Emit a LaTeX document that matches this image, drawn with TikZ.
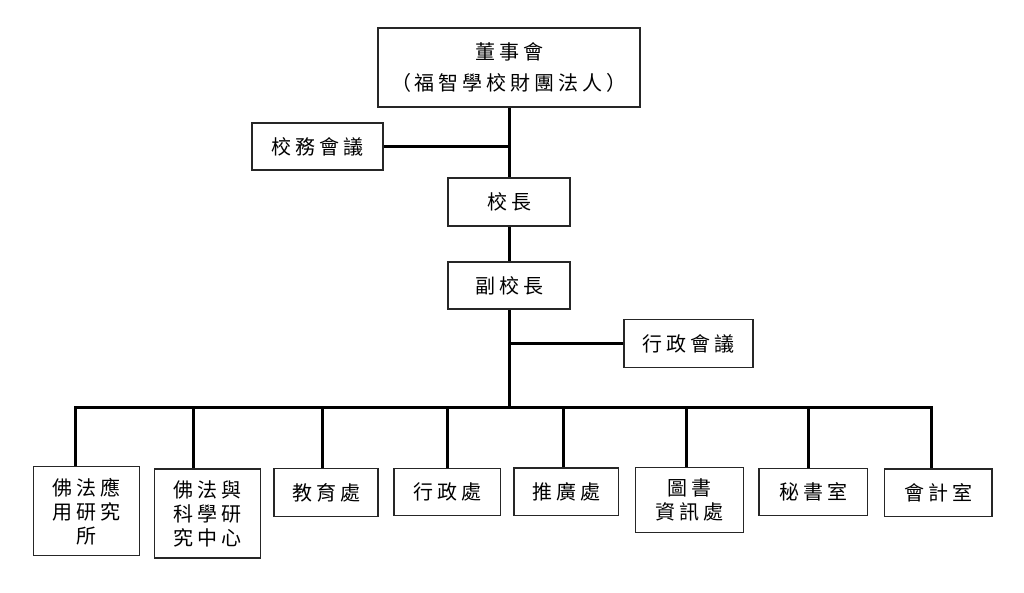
\documentclass[tikz,border=0pt]{standalone}
\usepackage{fontspec}
\setmainfont{Noto Sans CJK TC}[LetterSpace=20]
\begin{document}
\begin{tikzpicture}[x=1pt,y=-1pt,
  box/.style={draw=black!85,line width=1.3pt,rectangle,inner sep=0pt,align=center,
    font=\fontsize{20}{24}\selectfont},
  conn/.style={line width=3pt,black}]
\useasboundingbox[fill=white] (0,0) rectangle (1024,593);
% top
\node[box,minimum width=262pt,minimum height=79pt,font=\fontsize{20}{31}\selectfont] (top) at (509,67.5) {董事會\\（福智學校財團法人）};
\node[box,minimum width=131pt,minimum height=47pt] (wu) at (317.5,146.5) {校務會議};
\node[box,minimum width=122pt,minimum height=48pt] (xz) at (509,202) {校長};
\node[box,minimum width=122pt,minimum height=47pt] (fxz) at (509,285.5) {副校長};
\node[box,minimum width=129pt,minimum height=48pt] (xh) at (688.5,343.5) {行政會議};
% bottom row
\node[box,minimum width=106pt,minimum height=89pt] (b1) at (86.3,511.3) {佛法應\\用研究\\所};
\node[box,minimum width=106pt,minimum height=89pt] (b2) at (207.7,513.5) {佛法與\\科學研\\究中心};
\node[box,minimum width=104pt,minimum height=48pt] (b3) at (326,492.8) {教育處};
\node[box,minimum width=106.7pt,minimum height=47pt] (b4) at (447.3,492.2) {行政處};
\node[box,minimum width=104.7pt,minimum height=47.7pt] (b5) at (566.3,491.8) {推廣處};
\node[box,minimum width=108pt,minimum height=64.6pt] (b6) at (689.7,500) {圖書\\資訊處};
\node[box,minimum width=108.7pt,minimum height=47.4pt] (b7) at (813.3,492) {秘書室};
\node[box,minimum width=107.7pt,minimum height=47.7pt] (b8) at (938.2,492.8) {會計室};
% trunk
\coordinate (bus) at (509,407.3);
\draw[conn] (top.south) -- (xz.north);
\draw[conn] (wu.east) -- (wu.east -| top.south);
\draw[conn] (xz.south) -- (fxz.north);
\draw[conn] (fxz.south) -- (bus);
\draw[conn] (xh.west) -- (xh.west -| fxz.south);
% bus and drops
\coordinate (d1) at (75.7,407.3);
\coordinate (d2) at (193.7,407.3);
\coordinate (d3) at (322,407.3);
\coordinate (d4) at (447.7,407.3);
\coordinate (d5) at (563.7,407.3);
\coordinate (d6) at (686.3,407.3);
\coordinate (d7) at (808.3,407.3);
\coordinate (d8) at (931.7,407.3);
\draw[conn,line cap=rect] (d1) -- (d8);
\draw[conn] (d1) -- (d1 |- b1.north);
\draw[conn] (d2) -- (d2 |- b2.north);
\draw[conn] (d3) -- (d3 |- b3.north);
\draw[conn] (d4) -- (d4 |- b4.north);
\draw[conn] (d5) -- (d5 |- b5.north);
\draw[conn] (d6) -- (d6 |- b6.north);
\draw[conn] (d7) -- (d7 |- b7.north);
\draw[conn] (d8) -- (d8 |- b8.north);
\end{tikzpicture}
\end{document}
